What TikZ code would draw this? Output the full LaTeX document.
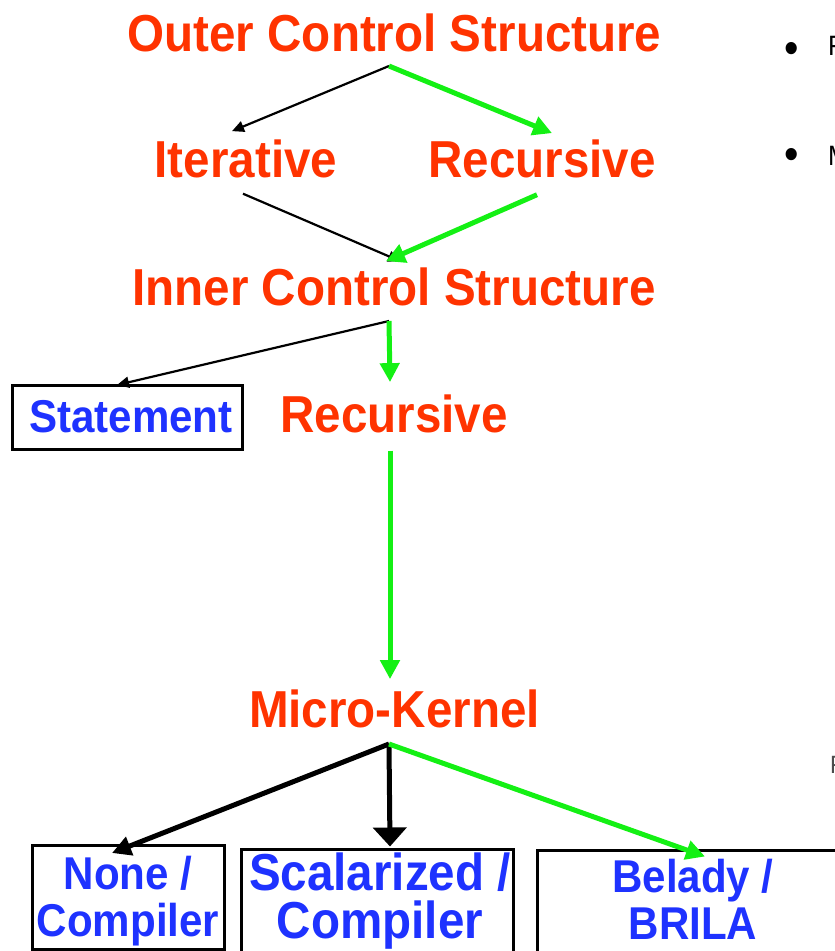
\documentclass[tikz,border=0pt]{standalone}
\usepackage{fontspec}
\setmainfont{Liberation Sans}[FakeStretch=0.915]
\usetikzlibrary{arrows.meta}
\definecolor{lvlred}{RGB}{255,51,0}
\definecolor{optblue}{RGB}{30,50,255}
\definecolor{pathgreen}{RGB}{20,240,20}

\begin{document}
\begin{tikzpicture}[x=1pt,y=-1pt,
 lvl/.style={font=\fontsize{52}{48}\selectfont\bfseries,text=lvlred,inner sep=0pt,anchor=base},
 opt/.style={draw,line width=3pt,text=optblue,align=center,inner xsep=0pt,anchor=north},
 big/.style={font=\fontsize{52}{48}\selectfont\bfseries},
 small/.style={font=\fontsize{46}{47}\selectfont\bfseries},
 note/.style={inner sep=0pt,font=\fontsize{28}{30}\selectfont},
 dot/.style={inner sep=0pt,anchor=base,font=\fontsize{45}{45}\selectfont},
 arr/.style={line width=2.2pt,-{Triangle[length=12pt,width=11pt]}},
 garr/.style={draw=pathgreen,line width=5pt,-{Triangle[length=19pt,width=19pt]}},
 karr/.style={line width=5pt,-{Triangle[length=19pt,width=19pt]}}]
\useasboundingbox (0,0) rectangle (835,951);
% levels of the search
\node[lvl](outer) at (394.5,51){Outer Control Structure};
\node[lvl](iter) at (246,177){Iterative};
\node[lvl](rec1) at (542,177){Recursive};
\node[lvl](inner) at (394,305){Inner Control Structure};
\node[lvl](rec2) at (394,432){Recursive};
\node[lvl](micro) at (394.5,727){Micro-Kernel};
% leaf options
\node[opt,small,anchor=center,minimum width=230pt,minimum height=64pt](stmt) at (127,417){\hspace*{8pt}Statement};
\node[opt,small,minimum width=192pt,inner ysep=11pt,text depth=2pt](none) at (128,844){None /\\Compiler};
\node[opt,big,minimum width=272pt,inner ysep=4pt,text depth=30pt](scal) at (377,847.5){\hspace*{6pt}Scalarized /\\\hspace*{6pt}Compiler};
\node[opt,small,minimum width=312pt,inner ysep=9pt,text depth=30pt](bel) at (693,848.5){Belady /\\BRILA};
% bullet column on the right
\node[dot](dot1) at (792,63){•};
\node[note,anchor=base west](pt1) at (828,55){F};
\node[dot](dot2) at (792,169){•};
\node[note,anchor=base west](pt2) at (828,165){M};
\node[note,anchor=base west,text=black!70,font=\fontsize{25}{27}\selectfont](pt3) at (830,773){F};
% forks
\coordinate(ofork) at (389,66);
\coordinate(ifork) at (389,321);
\coordinate(mfork) at (389,744);
\draw[arr](ofork)--([shift={(-14,-8)}]iter.north);
\draw[garr](ofork)--([shift={(10,-6)}]rec1.north);
\draw[arr]([shift={(-3,16)}]iter.south)--([shift={(6,-6)}]inner.north);
\draw[garr]([shift={(-5,17)}]rec1.south)--([shift={(-8,-6)}]inner.north);
\draw[arr](ifork)--([shift={(-10,1.5)}]stmt.north);
\draw[garr](ifork)--([shift={(-4,-12)}]rec2.north);
\draw[garr]([shift={(-4,18)}]rec2.south)--([shift={(-4.5,-10)}]micro.north);
\draw[karr](mfork)--([shift={(-16,9)}]none.north);
\draw[karr,-{Triangle[length=19pt,width=33pt]}](mfork)--([shift={(13,-1)}]scal.north);
\draw[garr](mfork)--([shift={(12,8)}]bel.north);
\end{tikzpicture}
\end{document}
